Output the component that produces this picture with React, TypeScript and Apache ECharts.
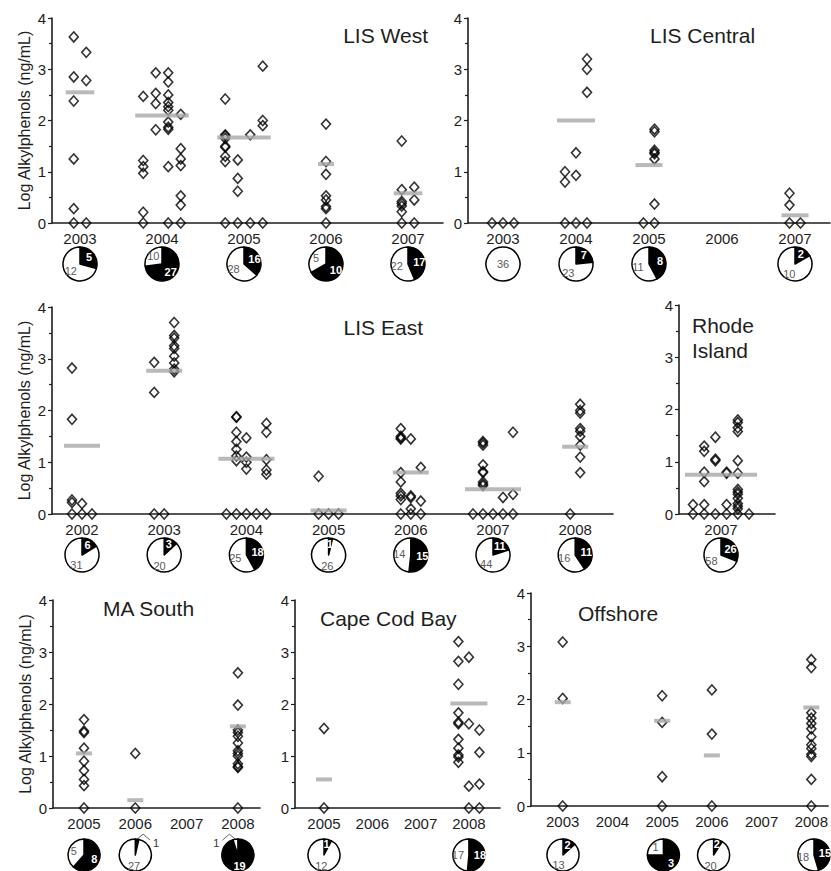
import React, { useEffect, useRef } from 'react';
import * as echarts from 'echarts';

// ---------------- DATA ----------------
// Each year holds a list of columns of log alkylphenol values (ng/mL).
const westYears = [2003, 2004, 2005, 2006, 2007];
const westPoints = [
  [[3.63, 2.85, 2.38, 1.25, 0.28, 0], [3.33, 2.78, 0]],
  [[2.47, 1.22, 1.1, 0.97, 0.21, 0], [2.93, 2.53, 2.33, 1.82], [2.93, 2.75, 2.5, 2.35, 2.27, 2.2, 1.97, 1.87, 1.83, 1.1, 0], [2.12, 1.45, 1.25, 1.12, 0.53, 0.35, 0]],
  [[2.42, 1.72, 1.7, 1.65, 1.5, 1.48, 1.3, 1.2, 0], [1.23, 0.87, 0.62, 0], [1.72, 0], [3.06, 2.0, 1.9, 0]],
  [[1.93, 1.2, 0.95, 0.53, 0.45, 0.32, 0.28, 0]],
  [[1.6, 0.65, 0.42, 0.38, 0.33, 0.22, 0], [0.7, 0.45, 0]],
];
const westMedians = [2.55, 2.1, 1.67, 1.15, 0.58];
const westDetected = [5, 27, 16, 10, 17];
const westNonDetected = [12, 10, 28, 5, 22];

const centralYears = [2003, 2004, 2005, 2006, 2007];
const centralPoints = [
  [[0], [0], [0]],
  [[1.0, 0.8, 0], [1.37, 0.93, 0], [3.2, 3.0, 2.55, 0]],
  [[0], [1.83, 1.78, 1.42, 1.38, 1.35, 1.25, 0.37, 0]],
  [],
  [[0.58, 0.35, 0], [0]],
];
const centralMedians = [null, 2.0, 1.13, null, 0.15];
const centralDetected = [0, 7, 8, null, 2];
const centralNonDetected = [36, 23, 11, null, 10];

const eastYears = [2002, 2003, 2004, 2005, 2006, 2007, 2008];
const eastPoints = [
  [[2.82, 1.83, 0.27, 0.22, 0], [0.2, 0], [0]],
  [[2.93, 2.35, 0], [0], [3.7, 3.45, 3.4, 3.25, 3.2, 3.05, 2.92, 2.8, 2.75]],
  [[0], [1.88, 1.87, 1.58, 1.4, 1.25, 1.12, 1.03, 0], [1.47, 1.1, 1.0, 0.87, 0], [0], [1.75, 1.58, 1.05, 0.85, 0.77, 0]],
  [[0.73, 0], [0], [0]],
  [[1.65, 1.5, 1.47, 1.45, 0.8, 0.62, 0.4, 0.35, 0.28, 0], [1.45, 0.35, 0.32, 0.1, 0], [0.9, 0.25, 0]],
  [[0], [1.4, 1.37, 1.33, 0.95, 0.82, 0.8, 0.62, 0.58, 0.55, 0], [0], [0.32, 0], [1.58, 0.38, 0]],
  [[0], [2.12, 2.0, 1.95, 1.65, 1.6, 1.5, 1.33, 1.1, 0.8]],
];
const eastMedians = [1.32, 2.77, 1.07, 0.07, 0.8, 0.48, 1.3];
const eastDetected = [6, 3, 18, 1, 15, 11, 11];
const eastNonDetected = [31, 20, 25, 26, 14, 44, 16];

const riYears = [2007];
const riPoints = [
  [[0.18, 0], [1.3, 1.2, 0.8, 0.62, 0.18, 0], [1.47, 1.05, 1.02, 0], [0.8, 0.78, 0.18, 0], [1.8, 1.75, 1.65, 1.58, 1.02, 0.78, 0.47, 0.42, 0.38, 0.3, 0.2, 0.15, 0.1, 0], [0]],
];
const riMedians = [0.75];
const riDetected = [26];
const riNonDetected = [58];

const maYears = [2005, 2006, 2007, 2008];
const maPoints = [
  [[1.7, 1.48, 1.45, 1.15, 0.9, 0.72, 0.55, 0.43, 0]],
  [[1.05, 0]],
  [],
  [[2.6, 1.98, 1.5, 1.45, 1.38, 1.25, 1.1, 1.05, 1.0, 0.85, 0.8, 0.78, 0]],
];
const maMedians = [1.05, 0.15, null, 1.57];
const maDetected = [8, 1, null, 19];
const maNonDetected = [5, 27, null, 1];

const capeYears = [2005, 2006, 2007, 2008];
const capePoints = [
  [[1.53, 0]],
  [],
  [],
  [[3.2, 2.82, 2.38, 1.83, 1.65, 1.62, 1.32, 1.15, 1.02, 0.98, 0.88], [2.9, 1.62, 0.42, 0], [1.5, 1.07, 0.46, 0]],
];
const capeMedians = [0.55, null, null, 2.01];
const capeDetected = [1, null, null, 18];
const capeNonDetected = [12, null, null, 17];

const offYears = [2003, 2004, 2005, 2006, 2007, 2008];
const offPoints = [
  [[3.08, 2.02, 0]],
  [],
  [[2.07, 1.57, 0.55, 0]],
  [[2.18, 1.35, 0]],
  [],
  [[2.75, 2.6, 1.75, 1.65, 1.55, 1.45, 1.3, 1.15, 1.08, 0.97, 0.93, 0.5, 0]],
];
const offMedians = [1.95, null, 1.6, 0.95, null, 1.85];
const offDetected = [2, null, 3, 2, null, 15];
const offNonDetected = [13, null, 1, 20, null, 18];

const yTicks = [0, 1, 2, 3, 4];
const yAxisName = 'Log Alkylphenols (ng/mL)';

// ---------------- PANELS & LAYOUT ----------------
const panels = [
  { title: ['LIS West'], years: westYears, points: westPoints, medians: westMedians, det: westDetected, nd: westNonDetected },
  { title: ['LIS Central'], years: centralYears, points: centralPoints, medians: centralMedians, det: centralDetected, nd: centralNonDetected },
  { title: ['LIS East'], years: eastYears, points: eastPoints, medians: eastMedians, det: eastDetected, nd: eastNonDetected },
  { title: ['Rhode', 'Island'], years: riYears, points: riPoints, medians: riMedians, det: riDetected, nd: riNonDetected },
  { title: ['MA South'], years: maYears, points: maPoints, medians: maMedians, det: maDetected, nd: maNonDetected },
  { title: ['Cape Cod Bay'], years: capeYears, points: capePoints, medians: capeMedians, det: capeDetected, nd: capeNonDetected },
  { title: ['Offshore'], years: offYears, points: offPoints, medians: offMedians, det: offDetected, nd: offNonDetected },
];

const layouts = [
  { left: 52, top: 18, width: 391, height: 205, firstX: 80, ppy: 82, colPx: 12.5, pieY: 264, r: 17, yName: true, tx: 428, ty: 35, talign: 'right' },
  { left: 468, top: 18, width: 362, height: 205, firstX: 503, ppy: 73, colPx: 11, pieY: 264, r: 17, yName: false, tx: 650, ty: 35, talign: 'left' },
  { left: 52, top: 307, width: 561, height: 207, firstX: 82, ppy: 82.2, colPx: 10, pieY: 555, r: 17, yName: true, tx: 423, ty: 327, talign: 'right' },
  { left: 679, top: 305, width: 96, height: 209, firstX: 721, ppy: 80, colPx: 11.2, pieY: 555, r: 17, yName: false, tx: 692, ty: 325, talign: 'left' },
  { left: 53, top: 600, width: 207, height: 208, firstX: 84, ppy: 51.3, colPx: 10, pieY: 855, r: 16, yName: true, tx: 103, ty: 608, talign: 'left', smallOutside: true },
  { left: 295, top: 600, width: 205, height: 208, firstX: 324, ppy: 48.3, colPx: 10.5, pieY: 855, r: 16, yName: false, tx: 320, ty: 618, talign: 'left' },
  { left: 531, top: 593, width: 300, height: 213, firstX: 563, ppy: 50.2, colPx: 10, pieY: 855, r: 16, yName: false, tx: 578, ty: 613, talign: 'left' },
];

const FONT = '"Liberation Sans", Arial, Helvetica, sans-serif';
const INK = '#1e1e1e';

// Place small outside labels beside the slice with a short bent leader line.
function smallLabelLayout(prm: any) {
  const pts = prm.labelLinePoints;
  if (!pts) return {};
  const sx = pts[0][0];
  const sy = pts[0][1];
  const right = pts[2][0] >= sx;
  const s = right ? 1 : -1;
  return {
    x: sx + s * 16,
    y: sy + 4,
    align: right ? 'left' : 'right',
    verticalAlign: 'middle',
    labelLinePoints: [[sx, sy], [sx + s * 6, sy - 5], [sx + s * 13, sy + 1]],
  };
}

function buildOption() {
  const grid: any[] = [];
  const xAxis: any[] = [];
  const yAxis: any[] = [];
  const series: any[] = [];
  const graphic: any[] = [];

  panels.forEach((p, i) => {
    const L: any = layouts[i];
    const first = p.years[0];
    const xMin = first - (L.firstX - L.left) / L.ppy;
    const xMax = xMin + L.width / L.ppy;
    grid.push({ left: L.left, top: L.top, width: L.width, height: L.height });
    xAxis.push({
      type: 'value', gridIndex: i, min: xMin, max: xMax,
      axisLine: { show: true, onZero: false, lineStyle: { color: INK, width: 1.6 } },
      axisTick: { show: false },
      splitLine: { show: false },
      axisLabel: {
        customValues: p.years,
        formatter: (v: number) => String(Math.round(v)),
        fontSize: 15, color: INK, fontFamily: FONT, margin: 8,
        showMinLabel: true, showMaxLabel: true,
      },
    });
    yAxis.push({
      type: 'value', gridIndex: i, min: 0, max: 4, interval: 1,
      name: L.yName ? yAxisName : '',
      nameLocation: 'middle', nameGap: 20, nameRotate: 90, nameMoveOverlap: false,
      nameTextStyle: { fontSize: 16, color: INK, fontFamily: FONT },
      axisLine: { show: true, lineStyle: { color: INK, width: 1.6 } },
      axisTick: { show: true, length: 4, lineStyle: { color: INK, width: 1.2 } },
      minorTick: { show: true, splitNumber: 2, length: 3, lineStyle: { color: INK, width: 1.2 } },
      splitLine: { show: false },
      axisLabel: { fontSize: 15, color: INK, fontFamily: FONT, margin: 6, customValues: yTicks },
    });

    const pts: number[][] = [];
    const meds: number[][] = [];
    p.years.forEach((yr, j) => {
      const cols = p.points[j] || [];
      const n = cols.length;
      cols.forEach((col, c) => {
        const dx = ((c - (n - 1) / 2) * L.colPx) / L.ppy;
        col.forEach((v) => pts.push([yr + dx, v]));
      });
      const m = p.medians[j];
      if (m != null) meds.push([yr, m, Math.max(n - 1, 0) * L.colPx + 16]);

      const d = p.det[j];
      const nd = p.nd[j];
      if (d != null && nd != null) {
        const total = d + nd;
        const cx = L.firstX + (yr - first) * L.ppy;
        const items: any[] = [];
        let hasOutside = false;
        const mk = (value: number, black: boolean) => {
          const small = L.smallOutside && value / total < 0.06;
          const label: any = black
            ? { color: '#fff', fontWeight: 'bold' }
            : { color: '#5a5a5a', fontWeight: 'normal' };
          const it: any = { value, name: black ? 'detected' : 'not detected', itemStyle: { color: black ? '#000' : '#fff' }, label };
          if (small) {
            hasOutside = true;
            it.label = { position: 'outside', color: '#333', fontWeight: 'normal' };
            it.labelLine = { show: true, length: 3, length2: 8, lineStyle: { color: '#666', width: 1 } };
          }
          return it;
        };
        if (d > 0) items.push(mk(d, true));
        if (nd > 0) items.push(mk(nd, false));
        const s: any = {
          type: 'pie', radius: L.r, center: [cx, L.pieY], startAngle: 90, clockwise: true,
          silent: true, avoidLabelOverlap: false, animation: false,
          label: { show: true, position: items.length === 1 ? 'center' : 'inside', formatter: '{c}', fontSize: 11, fontFamily: FONT },
          labelLine: { show: false },
          itemStyle: { borderColor: '#000', borderWidth: 1.5 },
          data: items,
        };
        if (hasOutside) s.labelLayout = smallLabelLayout;
        series.push(s);
      }
    });

    series.push({
      type: 'scatter', xAxisIndex: i, yAxisIndex: i, data: pts, clip: false,
      symbol: 'diamond', symbolSize: [9, 10], silent: true, z: 3,
      itemStyle: { color: 'rgba(255,255,255,0)', borderColor: '#000', borderWidth: 1.6 },
    });
    series.push({
      type: 'scatter', xAxisIndex: i, yAxisIndex: i, data: meds, clip: false,
      symbol: 'rect', symbolSize: (v: number[]) => [v[2], 4], silent: true, z: 4,
      itemStyle: { color: '#a8a8a8' },
    });

    p.title.forEach((t, k) => {
      graphic.push({
        type: 'text', x: L.tx, y: L.ty + k * 25, silent: true,
        style: { text: t, fontSize: 21, fontFamily: FONT, fill: INK, align: L.talign, verticalAlign: 'middle' },
      });
    });
  });

  return { animation: false, backgroundColor: '#fff', grid, xAxis, yAxis, series, graphic };
}

export default function App() {
  const ref = useRef<HTMLDivElement>(null);
  useEffect(() => {
    if (!ref.current) return;
    const chart = echarts.init(ref.current, undefined, { renderer: 'svg' });
    chart.setOption(buildOption() as any);
    return () => chart.dispose();
  }, []);
  return <div ref={ref} style={{ position: 'absolute', left: 0, top: 0, width: 831, height: 871 }} />;
}
